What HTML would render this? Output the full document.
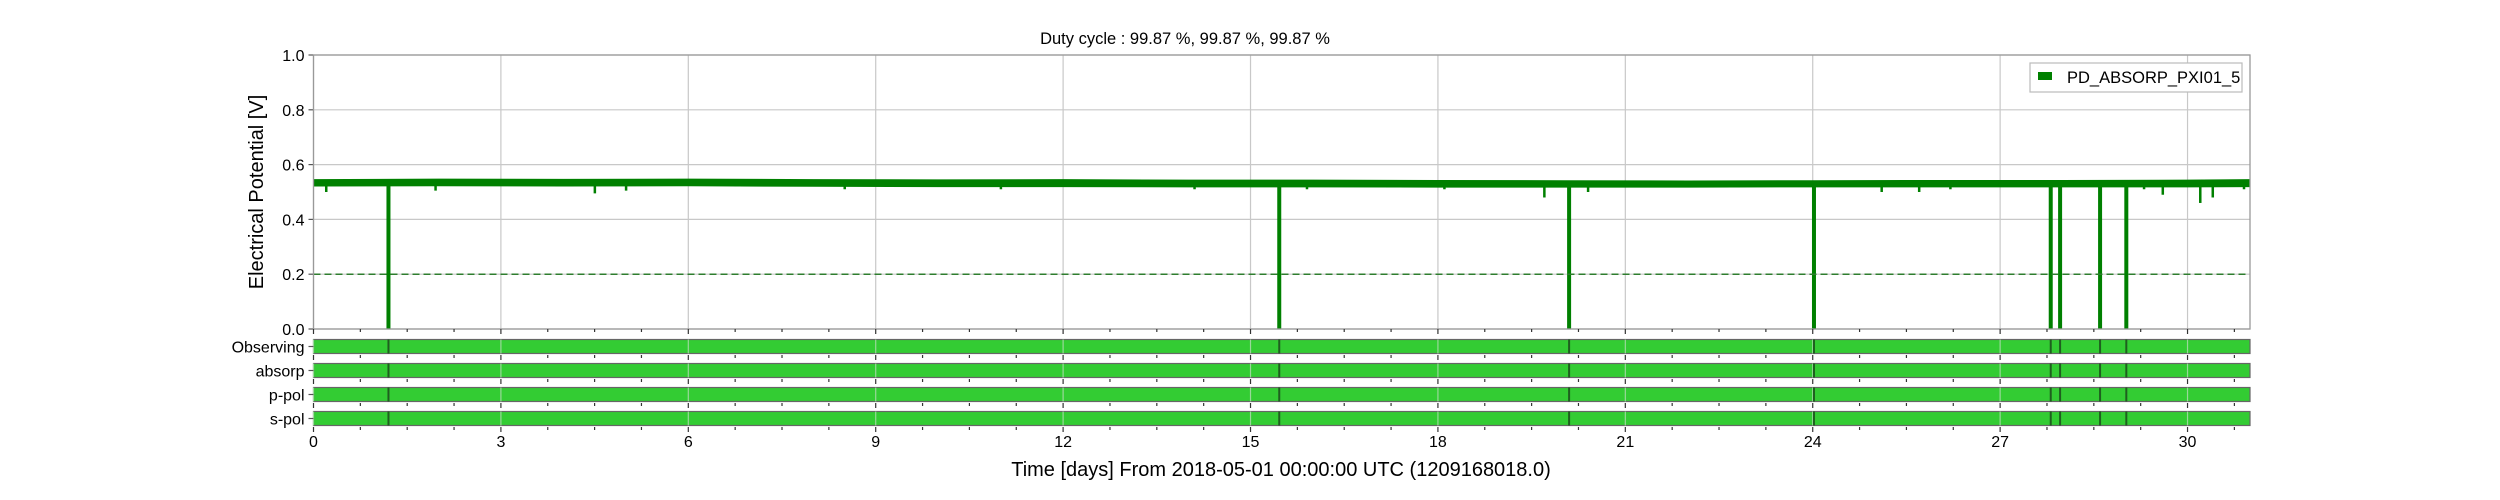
<!DOCTYPE html>
<html><head><meta charset="utf-8">
<style>html,body{margin:0;padding:0;background:#fff}svg{display:block;font-family:"Liberation Sans",sans-serif}</style>
</head><body>
<svg id="chart" width="2500" height="500" viewBox="0 0 2500 500">
<text x="1185" y="44" text-anchor="middle" font-size="16.5">Duty cycle : 99.87 %, 99.87 %, 99.87 %</text>
<g id="grid"></g>
<g id="series"></g>
<g id="segments"></g>
<g id="axes"></g>
<text x="0" y="0" transform="translate(263,192) rotate(-90)" text-anchor="middle" font-size="20">Electrical Potential [V]</text>
<text x="1281" y="476" text-anchor="middle" font-size="20">Time [days] From 2018-05-01 00:00:00 UTC (1209168018.0)</text>
<g>
<rect x="2030" y="63" width="212" height="29" fill="#fff" stroke="#bbb" stroke-width="1.2"/>
<rect x="2038" y="72" width="14" height="8" fill="#008000"/>
<text x="2067" y="83" font-size="16.5">PD_ABSORP_PXI01_5</text>
</g>
</svg>
<script>
const xTicks = [0,3,6,9,12,15,18,21,24,27,30];
const yTicks = [0.0,0.2,0.4,0.6,0.8,1.0];
const yTickLabels = ["0.0","0.2","0.4","0.6","0.8","1.0"];
const bandDays = [0,2,4,6,8,10,12,14,16,18,20,22,24,26,28,30,31];
const bandHigh = [0.547,0.549,0.548,0.549,0.547,0.546,0.547,0.545,0.545,0.544,0.543,0.542,0.543,0.544,0.544,0.545,0.547];
const bandLow  = [0.520,0.521,0.520,0.521,0.519,0.518,0.518,0.517,0.517,0.516,0.516,0.516,0.517,0.517,0.517,0.517,0.518];
const dipDays = [0.2,1.95,4.5,5.0,8.5,11.0,14.1,15.9,18.1,19.7,20.4,25.1,25.7,26.2,27.2,29.3,29.6,30.2,30.4,30.9];
const dipValues = [0.50,0.505,0.495,0.505,0.51,0.51,0.51,0.51,0.51,0.48,0.50,0.50,0.50,0.51,0.52,0.51,0.49,0.46,0.48,0.51];
const gapDays = [1.2,15.46,20.1,24.02,27.81,27.96,28.6,29.02];
const threshold = 0.2;
const segNames = ["Observing","absorp","p-pol","s-pol"];

const X0=313.5, X1=2250, Y0=329, Y1=55, DMAX=31;
const xs = d => X0 + d/DMAX*(X1-X0);
const ys = v => Y0 - v*(Y0-Y1);
const NS="http://www.w3.org/2000/svg";
function mk(tag, attrs, parent){const e=document.createElementNS(NS,tag);for(const k in attrs)e.setAttribute(k,attrs[k]);parent.appendChild(e);return e;}
const grid=document.getElementById('grid'), series=document.getElementById('series'), segs=document.getElementById('segments'), axes=document.getElementById('axes');

xTicks.forEach(d=>{const l=mk('line',{x1:xs(d),x2:xs(d),y1:Y1,y2:Y0,stroke:'#c8c8c8','stroke-width':1.2},grid);

});
yTicks.forEach((v,i)=>{const l=mk('line',{x1:X0,x2:X1,y1:ys(v),y2:ys(v),stroke:'#c8c8c8','stroke-width':1.2},grid);


mk('line',{x1:X0-5,x2:X0,y1:ys(v),y2:ys(v),stroke:'#555','stroke-width':1.2},axes);
const t=mk('text',{x:X0-9,y:ys(v)+6,'text-anchor':'end','font-size':16},axes);t.textContent=yTickLabels[i];

});

let pts=[];bandDays.forEach((d,i)=>pts.push(xs(d)+','+ys(bandHigh[i])));
for(let i=bandDays.length-1;i>=0;i--)pts.push(xs(bandDays[i])+','+ys(bandLow[i]));
const band=mk('polygon',{points:pts.join(' '),fill:'#008000'},series);


dipDays.forEach((d,i)=>{const r=mk('rect',{x:xs(d)-1,y:ys(0.525),width:2.5,height:ys(dipValues[i])-ys(0.525),fill:'#008000'},series);

});
gapDays.forEach(d=>{const r=mk('rect',{x:xs(d)-2,y:ys(0.525),width:4,height:ys(0)-ys(0.525),fill:'#008000'},series);

});
const th=mk('line',{x1:X0,x2:X1,y1:ys(threshold),y2:ys(threshold),stroke:'#2e7d2e','stroke-width':1.5,'stroke-dasharray':'7,4'},series);



const fr=mk('rect',{x:X0,y:Y1,width:X1-X0,height:Y0-Y1,fill:'none',stroke:'#999','stroke-width':1.3},axes);



const rowTop=[331,355,379,403], rowH=24;
function xtickRow(y){
  for(let m=0;m<=DMAX;m+=0.75){const major=Math.abs(m/3-Math.round(m/3))<1e-6;
    mk('line',{x1:xs(m),x2:xs(m),y1:y,y2:y+(major?5:3),stroke:'#333','stroke-width':1.2},axes);}
}
xtickRow(Y0);
segNames.forEach((n,i)=>{
  const t0=rowTop[i], cy=t0+15.5;
  const b=mk('rect',{x:X0,y:cy-7,width:X1-X0,height:14,fill:'#33cc33',stroke:'#666','stroke-width':1.2},segs);
  
  
  xTicks.forEach(d=>mk('line',{x1:xs(d),x2:xs(d),y1:cy-7,y2:cy+7,stroke:'#9ad89a','stroke-width':1.2},segs));
  gapDays.forEach(d=>{const g=mk('rect',{x:xs(d)-1,y:cy-7,width:2,height:14,fill:'#1f5f1f'},segs);
  
  });
  mk('line',{x1:X0-5,x2:X0,y1:cy,y2:cy,stroke:'#555','stroke-width':1.2},axes);
  const t=mk('text',{x:X0-9,y:cy+6,'text-anchor':'end','font-size':16},axes);t.textContent=n;
  
  
  xtickRow(t0+rowH);
});
xTicks.forEach(d=>{const t=mk('text',{x:xs(d),y:447,'text-anchor':'middle','font-size':16},axes);t.textContent=String(d);

});
</script>
</body></html>
